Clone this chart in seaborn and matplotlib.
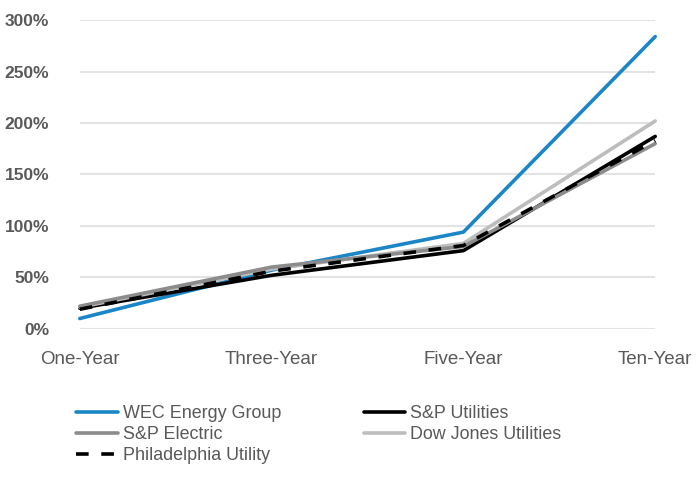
import seaborn as sns
from matplotlib import pyplot as plt
import pandas as pd

# Data (cumulative total return, %)
periods = ["One-Year", "Three-Year", "Five-Year", "Ten-Year"]
wec = [10, 57, 94, 284]
sp_util = [20, 52, 76, 187]
dow_jones = [21, 58, 83, 202]
sp_electric = [22, 60, 80, 180]
philly = [19, 56, 81, 183]

series = {
    "WEC Energy Group": wec,
    "S&P Utilities": sp_util,
    "Dow Jones Utilities": dow_jones,
    "S&P Electric": sp_electric,
    "Philadelphia Utility": philly,
}
colors = {
    "WEC Energy Group": "#1a86c7",
    "S&P Utilities": "#000000",
    "Dow Jones Utilities": "#bdbdbd",
    "S&P Electric": "#8c8c8c",
    "Philadelphia Utility": "#000000",
}

rows = []
for name, vals in series.items():
    for p, v in zip(periods, vals):
        rows.append({"Period": p, "Return": v, "Series": name})
df = pd.DataFrame(rows)

sns.set_style("white")
plt.rcParams["font.family"] = ["Liberation Sans", "DejaVu Sans"]

fig = plt.figure(figsize=(7, 4.8), dpi=100)
ax = fig.add_axes([0.114, 0.315, 0.822, 0.643])

handles = {}
for name in series:
    sub = df[df["Series"] == name]
    sns.lineplot(data=sub, x="Period", y="Return", ax=ax, color=colors[name],
                 linewidth=2.6, sort=False, clip_on=False)
    line = ax.lines[-1]
    if name == "Philadelphia Utility":
        line.set_dashes((3.5, 3.5))
    handles[name] = line

ax.set_xlim(0, 3)
ax.set_ylim(0, 300)
ax.set_yticks(range(0, 301, 50))
ax.set_yticklabels([f"{t}%" for t in range(0, 301, 50)], fontsize=12.5,
                   fontweight="bold", color="#595959")
ax.set_xticks(range(4))
ax.set_xticklabels(periods, fontsize=13.5, color="#595959")
ax.tick_params(axis="x", pad=16, length=0)
ax.tick_params(axis="y", pad=22, length=0)
ax.yaxis.grid(True, color="#e3e3e3", linewidth=1.5)
ax.set_axisbelow(True)
sns.despine(ax=ax, left=True, bottom=True)
ax.set_xlabel("")
ax.set_ylabel("")

order = ["WEC Energy Group", "S&P Electric", "Philadelphia Utility",
         "S&P Utilities", "Dow Jones Utilities"]
leg = fig.legend([handles[n] for n in order], order, ncol=2,
                 loc="upper left", bbox_to_anchor=(0.086, 0.19),
                 frameon=False, fontsize=12.9, handlelength=2.3,
                 handletextpad=0.3, columnspacing=4.6, labelspacing=0.22)
for t in leg.get_texts():
    t.set_color("#595959")

plt.savefig("out.png", dpi=100)
